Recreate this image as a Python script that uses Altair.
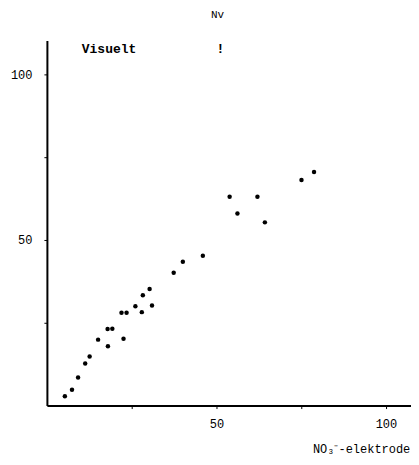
import altair as alt
import pandas as pd

# NO3- electrode readings (x) vs visual readings (y)
electrode = [5.3, 7.4, 9.2, 11.3, 12.6, 15.1, 18.0, 17.9, 19.3, 22.6, 22.0, 23.5, 26.1,
             28.0, 28.3, 30.3, 31.0, 37.4, 40.1, 46.0, 53.9, 56.2, 62.1, 64.3, 75.1, 78.8]
visual = [2.8, 4.8, 8.5, 12.7, 14.8, 19.9, 17.9, 23.1, 23.2, 20.2, 28.0, 28.0, 30.0,
          28.2, 33.3, 35.2, 30.2, 40.1, 43.4, 45.2, 63.0, 58.0, 63.0, 55.3, 68.1, 70.5]

ann_text = ["Visuelt", "!"]
ann_x = [10.3, 50.0]
ann_y = [107.5, 107.5]

tick_values = [25, 50, 75, 100]

df = pd.DataFrame({"x": electrode, "y": visual})
ann = pd.DataFrame({"t": ann_text, "x": ann_x, "y": ann_y})

FONT = "Liberation Mono"

xscale = alt.Scale(domain=[0, 107.4], nice=False, zero=True)
yscale = alt.Scale(domain=[0, 110.2], nice=False, zero=True)

points = alt.Chart(df).mark_circle(size=20, color="black", opacity=1).encode(
    x=alt.X("x:Q", scale=xscale,
            axis=alt.Axis(values=tick_values, grid=False, domainWidth=2, domainColor="black",
                          tickColor="black", tickSize=3,
                          labelExpr="datum.value % 50 == 0 ? datum.label : ''",
                          labelFont=FONT, labelFontSize=12, labelColor="black", labelPadding=10,
                          title="NO₃⁻-elektrode", titleFont=FONT, titleFontSize=12,
                          titleFontWeight="normal", titleColor="black",
                          titleAlign="center", titleX=315, titleY=38)),
    y=alt.Y("y:Q", scale=yscale,
            axis=alt.Axis(values=tick_values, grid=False, domainWidth=2, domainColor="black",
                          tickColor="black", tickSize=3,
                          labelExpr="datum.value % 50 == 0 ? datum.label : ''",
                          labelFont=FONT, labelFontSize=12, labelColor="black", labelPadding=12,
                          title=None)),
)

labels = alt.Chart(ann).mark_text(font=FONT, fontSize=13, fontWeight="bold", align="left",
                                  baseline="middle", color="black").encode(
    x=alt.X("x:Q", scale=xscale),
    y=alt.Y("y:Q", scale=yscale),
    text="t:N",
)

chart = (points + labels).properties(
    width=365, height=366,
    title=alt.TitleParams("Nv", font=FONT, fontSize=11, fontWeight="normal", color="black",
                          anchor="start", dx=201, offset=21),
    autosize=alt.AutoSizeParams(type="none"),
    padding={"left": 39, "top": 32, "right": 0, "bottom": 50},
).configure_view(stroke=None)

chart.save("out.html", embed_options={"renderer": "svg", "actions": False})
